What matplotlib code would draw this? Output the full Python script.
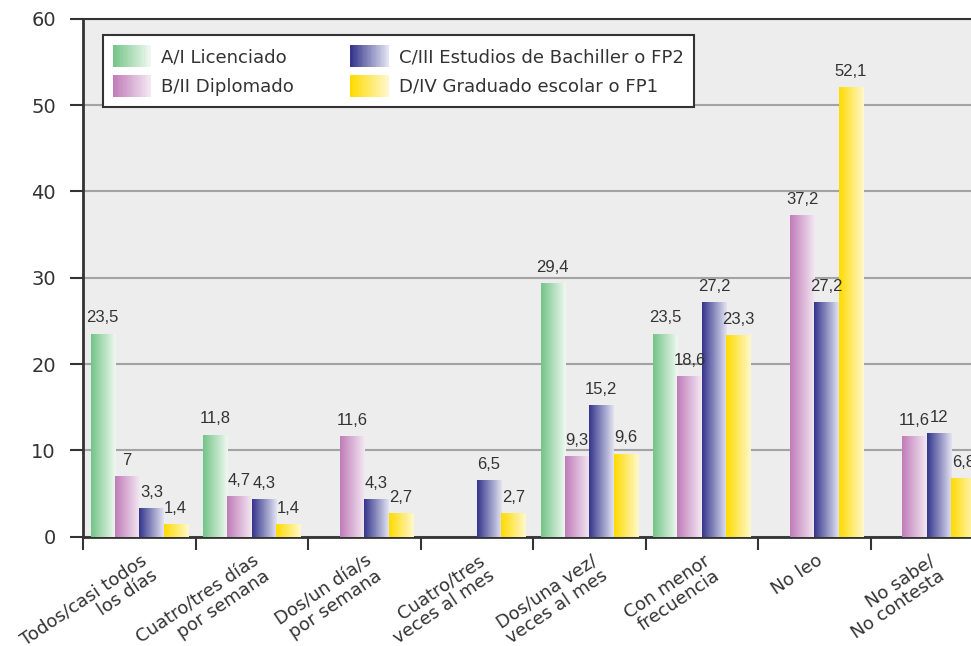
import numpy as np
import matplotlib.pyplot as plt
from matplotlib.colors import LinearSegmentedColormap
from matplotlib.patches import Rectangle
from matplotlib.legend_handler import HandlerBase
from matplotlib.transforms import blended_transform_factory

# === Data ===
categories = ['Todos/casi todos\nlos días', 'Cuatro/tres días\npor semana',
              'Dos/un día/s\npor semana', 'Cuatro/tres\nveces al mes',
              'Dos/una vez/\nveces al mes', 'Con menor\nfrecuencia',
              'No leo', 'No sabe/\nNo contesta']
nan = np.nan
licenciado = [23.5, 11.8, nan, nan, 29.4, 23.5, nan, nan]
diplomado = [7, 4.7, 11.6, nan, 9.3, 18.6, 37.2, 11.6]
bachiller = [3.3, 4.3, 4.3, 6.5, 15.2, 27.2, 27.2, 12]
graduado = [1.4, 1.4, 2.7, 2.7, 9.6, 23.3, 52.1, 6.8]

series_labels = ['A/I Licenciado', 'B/II Diplomado',
                 'C/III Estudios de Bachiller o FP2', 'D/IV Graduado escolar o FP1']
series = [licenciado, diplomado, bachiller, graduado]
# gradient colours (left = saturated, right = light)
grad_colors = [('#74c487', '#eff8f1'), ('#c07cb9', '#f3e8f2'),
               ('#35368c', '#e2e2f1'), ('#ffdb00', '#fff7cc')]

text_color = '#333333'


class GradientHandler(HandlerBase):
    def __init__(self, c0, c1, n=30):
        super().__init__()
        self.c0, self.c1, self.n = c0, c1, n

    def create_artists(self, legend, orig_handle, xdescent, ydescent,
                       width, height, fontsize, trans):
        cmap = LinearSegmentedColormap.from_list('g', [self.c0, self.c1])
        arts = []
        w = width / self.n
        for k in range(self.n):
            r = Rectangle((-xdescent + k * w, -ydescent), w * 1.05, height,
                          facecolor=cmap(k / (self.n - 1)), edgecolor='none',
                          transform=trans)
            arts.append(r)
        return arts


# === Plot ===
fig = plt.figure(figsize=(9.71, 6.46), dpi=100)
ax = fig.add_axes([83 / 971, (646 - 536.7) / 646, 900 / 971, 518 / 646])
ax.set_facecolor('#ededed')

x = np.arange(len(categories)) + 0.5
width = 0.216
grad = np.linspace(0, 1, 64).reshape(1, -1)

for k, (vals, (c0, c1)) in enumerate(zip(series, grad_colors)):
    pos = x + (k - 1.5) * width
    bars = ax.bar(pos, vals, width=width, color=c0, zorder=2, linewidth=0)
    cmap = LinearSegmentedColormap.from_list('bar%d' % k, [c0, c1])
    for b, v in zip(bars, vals):
        if np.isnan(v):
            continue
        ax.imshow(grad, extent=[b.get_x(), b.get_x() + b.get_width(), 0, v],
                  aspect='auto', cmap=cmap, zorder=3, interpolation='bilinear')
    labels = ['' if np.isnan(v) else f'{v:g}'.replace('.', ',') for v in vals]
    ax.bar_label(bars, labels=labels, padding=6, fontsize=12,
                 family='Liberation Sans', color=text_color, zorder=4)

ax.set_xlim(0, len(categories))
ax.set_ylim(0, 60)
ax.set_yticks(range(0, 61, 10))
ax.tick_params(axis='y', labelsize=14, labelcolor=text_color, length=9.5,
               width=1.5, color='#333333', pad=10)
ax.set_xticks(range(len(categories) + 1))
ax.set_xticklabels([])
ax.tick_params(axis='x', length=9.5, width=1.5, color='#333333')

ax.yaxis.grid(True, color='#a3a3a3', linewidth=1.5)
ax.set_axisbelow(True)

for side in ['left', 'bottom']:
    ax.spines[side].set_linewidth(2)
    ax.spines[side].set_color('#333333')
for side in ['top', 'right']:
    ax.spines[side].set_linewidth(1.5)
    ax.spines[side].set_color('#333333')

# category labels (rotated, right-aligned)
trans = blended_transform_factory(ax.transData, ax.transAxes)
for xc, lab in zip(x, categories):
    ax.text(xc + 0.01, -0.029, lab, transform=trans, rotation=34,
            rotation_mode='anchor', ha='right', va='top', multialignment='right',
            fontsize=13, color=text_color, linespacing=1.0)

# --- Legend ---
handles = [Rectangle((0, 0), 1, 1, facecolor=c0) for c0, _ in grad_colors]
hmap = {h: GradientHandler(c0, c1) for h, (c0, c1) in zip(handles, grad_colors)}
leg = ax.legend(handles, series_labels, handler_map=hmap, ncol=2,
                loc='upper left', bbox_to_anchor=(0.022, 0.9685), borderaxespad=0,
                fontsize=13.1, handlelength=2.1, handleheight=1.5,
                handletextpad=0.56, columnspacing=3.1, labelspacing=0.42,
                borderpad=0.55, fancybox=False, framealpha=1,
                edgecolor='#333333', labelcolor=text_color)
leg.get_frame().set_linewidth(1.5)
leg.set_zorder(5)

plt.savefig('out.png', dpi=100)
